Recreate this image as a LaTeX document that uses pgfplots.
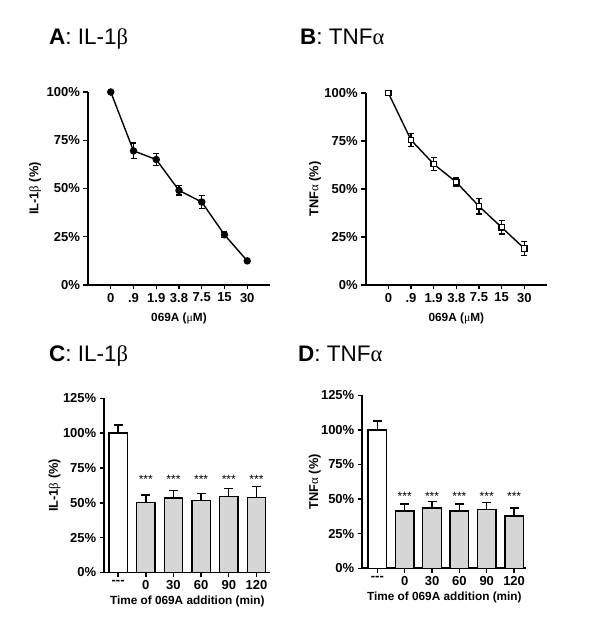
\documentclass[border=0pt]{standalone}
\usepackage{fontspec}
\setmainfont{Liberation Sans}
\newfontfamily\symf{Liberation Serif}
\usepackage{pgfplots}
\pgfplotsset{compat=1.18}
\definecolor{bargray}{HTML}{D6D6D6}
\pgfplotsset{
  panel/.style={
    scale only axis, clip=false,
    axis x line*=bottom, axis y line*=left,
    axis line style={line width=1.9pt, black},
    major tick style={line width=1.4pt, black},
    tick align=outside, major tick length=4.5pt,
    tick label style={font=\bfseries\fontsize{13}{15}\selectfont},
    xlabel style={font=\bfseries\fontsize{11.8}{14}\selectfont},
    ylabel style={font=\bfseries\fontsize{12.8}{14}\selectfont},
    ymin=0,
  },
  errs/.style={error bars/.cd, y dir=both, y explicit,
    error bar style={line width=1.3pt, black},
    error mark options={rotate=90, mark size=3pt, line width=1.3pt, black}},
  errp/.style={error bars/.cd, y dir=plus, y explicit,
    error bar style={line width=1.4pt, black},
    error mark options={rotate=90, mark size=4.5pt, line width=1.4pt, black}},
}
\begin{document}
\begin{tikzpicture}
\path[use as bounding box] (0pt,0pt) rectangle (600pt,634pt);
% titles
\node[anchor=base west, inner sep=0pt, font=\fontsize{22.5}{24}\selectfont] at (49pt,589pt) {\textbf{A}: IL-1{\symf β}};
\node[anchor=base west, inner sep=0pt, font=\fontsize{22.5}{24}\selectfont] at (300pt,589pt) {\textbf{B}: TNF{\symf α}};
\node[anchor=base west, inner sep=0pt, font=\fontsize{22.5}{24}\selectfont] at (49pt,272pt) {\textbf{C}: IL-1{\symf β}};
\node[anchor=base west, inner sep=0pt, font=\fontsize{22.5}{24}\selectfont] at (298pt,272pt) {\textbf{D}: TNF{\symf α}};

% Panel A
\begin{axis}[panel, at={(88pt,349pt)}, anchor=south west, width=182pt, height=193pt,
  xmin=-1, xmax=7, ymax=100,
  xtick={0,...,6}, xticklabels={0,.9,1.9,3.8,7.5,15,30},
  ytick={0,25,50,75,100}, yticklabels={0\%,25\%,50\%,75\%,100\%},
  xlabel={069A ({\symf\mdseries μ}M)}, ylabel={IL-1{\symf\mdseries β} (\%)},
  xlabel style={at={(axis description cs:0.5,-0.171)}, anchor=center},
  ylabel style={at={(axis description cs:-0.29,0.5)}, anchor=center}]
\addplot[black, line width=1.4pt, mark=*, mark size=3pt, errs] table[x=x, y=y, y error=e] {
x y e
0 100 0
1 69.5 4
2 65 3
3 49 2.4
4 43 3.5
5 26 1.4
6 12.5 0
};
\end{axis}

% Panel B
\begin{axis}[panel, at={(365.7pt,349pt)}, anchor=south west, width=181.3pt, height=192pt,
  xmin=-1, xmax=7, ymax=100,
  xtick={0,...,6}, xticklabels={0,.9,1.9,3.8,7.5,15,30},
  ytick={0,25,50,75,100}, yticklabels={0\%,25\%,50\%,75\%,100\%},
  xlabel={069A ({\symf\mdseries μ}M)}, ylabel={TNF{\symf\mdseries α} (\%)},
  xlabel style={at={(axis description cs:0.5,-0.172)}, anchor=center},
  ylabel style={at={(axis description cs:-0.28,0.5)}, anchor=center}]
\addplot[black, line width=1.4pt, mark=square*, mark size=2.7pt,
  mark options={fill=white, line width=1.2pt}, errs] table[x=x, y=y, y error=e] {
x y e
0 100 0
1 75.5 3.5
2 63 3.3
3 53.5 2.2
4 41 4
5 30 3.5
6 19 3.6
};
\end{axis}

% Panel C
\begin{axis}[panel, at={(104.3pt,61.5pt)}, anchor=south west, width=166pt, height=174.2pt,
  xmin=-0.5, xmax=5.5, ymax=125,
  xtick={0,...,5}, xticklabels={{-}{-}{-},0,30,60,90,120},
  ytick={0,25,50,75,100,125}, yticklabels={0\%,25\%,50\%,75\%,100\%,125\%},
  xlabel={Time of 069A addition (min)}, ylabel={IL-1{\symf\mdseries β} (\%)},
  xlabel style={at={(axis description cs:0.5,-0.168)}, anchor=center},
  ylabel style={at={(axis description cs:-0.30,0.5)}, anchor=center}]
\addplot[ybar, bar width=18.5pt, bar shift=0pt, draw=black, line width=1.4pt, fill=white, errp]
  table[x=x, y=y, y error=e] {
x y e
0 100 5.7
};
\addplot[ybar, bar width=18.5pt, bar shift=0pt, draw=black, line width=1.4pt, fill=bargray, errp]
  table[x=x, y=y, y error=e] {
x y e
1 50.4 5.2
2 53.5 5.4
3 51.8 4.8
4 54.7 5.4
5 53.9 7.7
};
\addplot[draw=none, mark=none, nodes near coords={***},
  every node near coord/.style={anchor=center, font=\fontsize{12}{12}\selectfont}]
  coordinates {(1,66.5) (2,66.5) (3,66.5) (4,66.5) (5,66.5)};
\end{axis}

% Panel D
\begin{axis}[panel, at={(362.3pt,65.7pt)}, anchor=south west, width=164.1pt, height=173pt,
  xmin=-0.55, xmax=5.45, ymax=125,
  xtick={0,...,5}, xticklabels={{-}{-}{-},0,30,60,90,120},
  ytick={0,25,50,75,100,125}, yticklabels={0\%,25\%,50\%,75\%,100\%,125\%},
  xlabel={Time of 069A addition (min)}, ylabel={TNF{\symf\mdseries α} (\%)},
  xlabel style={at={(axis description cs:0.5,-0.17)}, anchor=center},
  ylabel style={at={(axis description cs:-0.29,0.5)}, anchor=center}]
\addplot[ybar, bar width=18.5pt, bar shift=0pt, draw=black, line width=1.4pt, fill=white, errp]
  table[x=x, y=y, y error=e] {
x y e
0 100 6.5
};
\addplot[ybar, bar width=18.5pt, bar shift=0pt, draw=black, line width=1.4pt, fill=bargray, errp]
  table[x=x, y=y, y error=e] {
x y e
1 41.3 5.3
2 43.5 4.6
3 41.3 5.3
4 42.3 5.3
5 37.7 5.8
};
\addplot[draw=none, mark=none, nodes near coords={***},
  every node near coord/.style={anchor=center, font=\fontsize{12}{12}\selectfont}]
  coordinates {(1,52.2) (2,52.2) (3,52.2) (4,52.2) (5,52.2)};
\end{axis}
\end{tikzpicture}
\end{document}
